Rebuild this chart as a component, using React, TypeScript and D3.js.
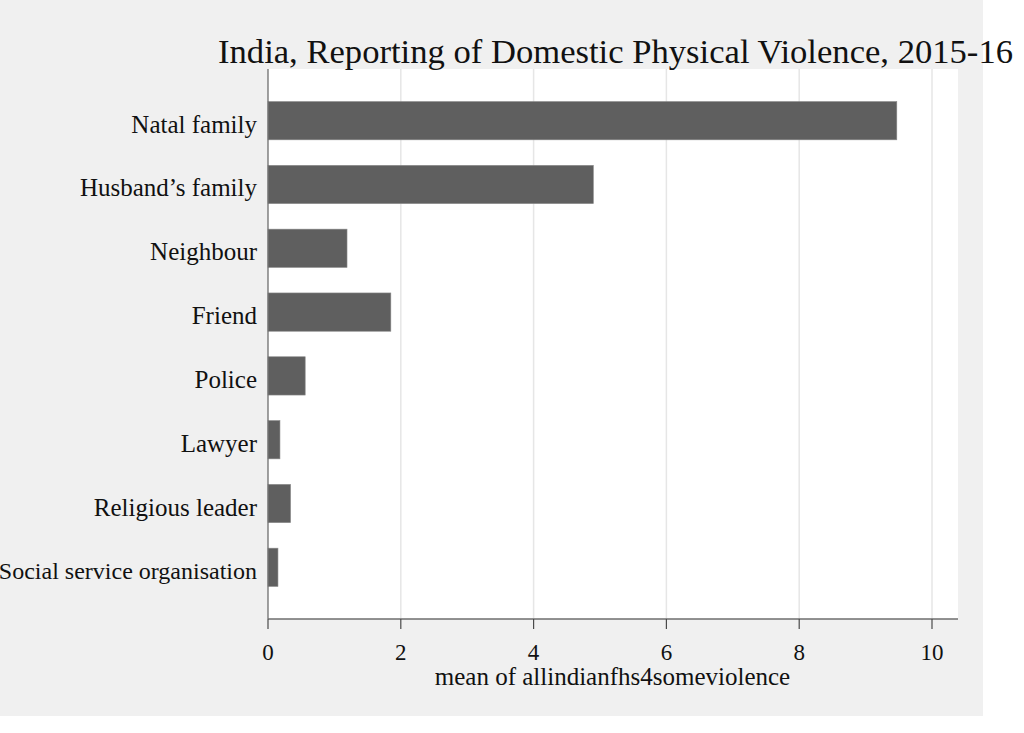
import * as d3 from 'd3';

// Reporting categories, top to bottom
const CATEGORIES = [
  'Natal family',
  'Husband\u2019s family',
  'Neighbour',
  'Friend',
  'Police',
  'Lawyer',
  'Religious leader',
  'Social service organisation',
];
// mean of allindianfhs4someviolence
const VALUES = [9.47, 4.9, 1.19, 1.85, 0.56, 0.18, 0.34, 0.15];
const X_TICKS = [0, 2, 4, 6, 8, 10];

const TITLE = 'India, Reporting of Domestic Physical Violence, 2015-16';
const X_TITLE = 'mean of allindianfhs4someviolence';

const W = 1024;
const H = 733;
const FONT = '"Liberation Serif", "Times New Roman", serif';

export default function App() {
  const left = 268;
  const right = 958;
  const top = 69;
  const bottom = 619;

  const x = d3.scaleLinear().domain([0, 10]).range([left, left + 664]);
  const y = d3.scaleBand<string>()
    .domain(CATEGORIES)
    .range([top, bottom])
    .paddingInner(0.4)
    .paddingOuter(0.51);

  return (
    <svg
      width={W}
      height={H}
      style={{ position: 'absolute', left: 0, top: 0, background: '#ffffff' }}
    >
      {/* outer graph region */}
      <rect x={0} y={0} width={983} height={716} fill="#f0f0f0" />
      {/* plot region */}
      <rect x={left} y={top} width={right - left} height={bottom - top} fill="#ffffff" />

      {/* grid */}
      {X_TICKS.filter(t => t > 0).map(t => (
        <line key={`g${t}`} x1={x(t)} x2={x(t)} y1={top} y2={bottom}
          stroke="#e6e6e6" strokeWidth={1.5} />
      ))}

      {/* bars */}
      {CATEGORIES.map((c, i) => (
        <rect key={c} x={x(0)} y={y(c)} width={x(VALUES[i]) - x(0)} height={y.bandwidth()}
          fill="#5f5f5f" stroke="#8a8a8a" strokeWidth={0.6} />
      ))}

      {/* axes */}
      <line x1={left} x2={left} y1={top} y2={bottom} stroke="#6e6e6e" strokeWidth={1.3} />
      <line x1={left} x2={right} y1={bottom} y2={bottom} stroke="#6e6e6e" strokeWidth={1.3} />
      {X_TICKS.map(t => (
        <g key={`t${t}`}>
          <line x1={x(t)} x2={x(t)} y1={bottom} y2={bottom + 10} stroke="#4a4a4a" strokeWidth={1.2} />
          <text x={x(t)} y={660} textAnchor="middle" fontFamily={FONT} fontSize={23} fill="#111">
            {t}
          </text>
        </g>
      ))}

      {/* category labels */}
      {CATEGORIES.map(c => (
        <text key={`l${c}`} x={257} y={(y(c) ?? 0) + y.bandwidth() / 2 + 12}
          textAnchor="end" fontFamily={FONT} fontSize={c.length > 20 ? 24 : 25} fill="#111">
          {c}
        </text>
      ))}

      {/* axis title */}
      <text x={612.5} y={685} textAnchor="middle" fontFamily={FONT} fontSize={25} fill="#111">
        {X_TITLE}
      </text>

      {/* chart title */}
      <text x={615.5} y={63} textAnchor="middle" fontFamily={FONT} fontSize={34} fill="#111"
        textLength={795} lengthAdjust="spacingAndGlyphs">
        {TITLE}
      </text>
    </svg>
  );
}
